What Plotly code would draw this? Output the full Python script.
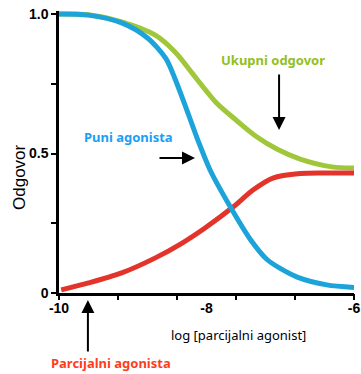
import plotly.graph_objects as go

# Log concentration of the partial agonist (x) and response (y) for each curve
total_x = [-10, -9.6, -9.15, -8.7, -8.43, -8.2, -8.02, -7.86, -7.6, -7.32, -7.04, -6.73, -6.3, -6.0]
total_y = [1.0, 0.997, 0.972, 0.925, 0.865, 0.79, 0.73, 0.68, 0.62, 0.56, 0.515, 0.48, 0.452, 0.448]

full_x = [-10, -9.6, -9.15, -8.8, -8.55, -8.43, -8.3, -8.12, -7.95, -7.68, -7.4, -7.18, -7.0, -6.77, -6.37, -6.0]
full_y = [1.0, 0.996, 0.968, 0.914, 0.84, 0.77, 0.68, 0.55, 0.44, 0.31, 0.19, 0.12, 0.088, 0.057, 0.029, 0.02]

partial_x = [-9.97, -9.6, -9.15, -8.7, -8.33, -8.02, -7.64, -7.37, -7.1, -6.73, -6.4, -6.0]
partial_y = [0.011, 0.036, 0.072, 0.125, 0.179, 0.233, 0.308, 0.369, 0.412, 0.428, 0.43, 0.43]

# Axis ticks and labels
x_label_vals = [-10, -8, -6]
x_label_text = ["-10", "-8", "-6"]
x_tick_marks = [-10, -9.2, -8.4, -7.6, -6.8, -6]
y_tick_vals = [0, 0.25, 0.5, 0.75, 1.0]
y_tick_text = ["0", "", "0.5", "", "1.0"]

GREEN = "#a0c73a"
BLUE = "#1ca3d9"
RED = "#e3342b"
LABEL_FONT = "Comic Sans MS, Noto Sans, sans-serif"
AXIS_FONT = "Arial, Liberation Sans"

fig = go.Figure()
fig.add_trace(go.Scatter(x=total_x, y=total_y, mode="lines",
                         line=dict(color=GREEN, width=5, shape="spline", smoothing=1.0),
                         hoverinfo="skip", showlegend=False))
fig.add_trace(go.Scatter(x=partial_x, y=partial_y, mode="lines",
                         line=dict(color=RED, width=5, shape="spline", smoothing=0.8),
                         hoverinfo="skip", showlegend=False))
fig.add_trace(go.Scatter(x=full_x, y=full_y, mode="lines",
                         line=dict(color=BLUE, width=5, shape="spline", smoothing=0.8),
                         hoverinfo="skip", showlegend=False))
# empty trace that anchors the secondary x axis carrying the tick marks
fig.add_trace(go.Scatter(x=[x_tick_marks[0], x_tick_marks[-1]], y=[None, None], xaxis="x2",
                         mode="lines", hoverinfo="skip", showlegend=False))

fig.update_layout(
    width=361, height=374,
    margin=dict(l=59, r=7, t=11, b=81, autoexpand=False),
    paper_bgcolor="white", plot_bgcolor="white",
    xaxis=dict(range=[-10, -6], tickmode="array", tickvals=x_label_vals, ticktext=x_label_text,
               ticks="", showgrid=False, zeroline=False, showline=True, automargin=False,
               linecolor="black", linewidth=2.5,
               tickfont=dict(family=AXIS_FONT, size=14, color="black", weight="bold")),
    xaxis2=dict(range=[-10, -6], overlaying="x", anchor="y", side="bottom",
                tickmode="array", tickvals=x_tick_marks, ticks="outside", ticklen=6,
                tickwidth=2, tickcolor="black", showticklabels=False, automargin=False,
                showgrid=False, zeroline=False, showline=False),
    yaxis=dict(range=[0, 1.0108], tickmode="array", tickvals=y_tick_vals, ticktext=y_tick_text,
               ticks="outside", ticklen=5, tickwidth=2, tickcolor="black",
               showgrid=False, zeroline=False, showline=True, automargin=False,
               linecolor="black", linewidth=2.5,
               tickfont=dict(family=AXIS_FONT, size=14, color="black", weight="bold")),
)

P = 279 / 282.0  # paper units per response unit inside the plot


def note(text, x, y, size, color, family=LABEL_FONT, **kw):
    return dict(text=text, x=x, y=y * P, xref="paper", yref="paper", showarrow=False,
                xanchor="center", yanchor="middle",
                font=dict(family=family, size=size, color=color), **kw)


def arrow(x, y, ax, ay):
    return dict(text="", x=x, y=y * P, xref="paper", yref="paper", showarrow=True,
                ax=ax, ay=ay, arrowhead=2, arrowsize=1.3, arrowwidth=2, arrowcolor="black")


annotations = [
    # axis titles
    note("Odgovor", -0.132, 0.416, 17, "black", family=AXIS_FONT, textangle=-90),
    note("log [parcijalni agonist]", 0.61, -0.151, 13, "black"),
    # curve labels
    note("<b>Ukupni odgovor</b>", 0.725, 0.835, 13, "#92c020"),
    note("<b>Puni agonista</b>", 0.237, 0.559, 13, "#1a9ef5"),
    note("<b>Parcijalni agonista</b>", 0.176, -0.251, 13, "#ff3c1e"),
    # arrows pointing at the curves
    arrow(0.746, 0.584, 0, -57),
    arrow(0.461, 0.484, -37, 0),
    arrow(0.098, -0.025, 0, 53),
]
fig.update_layout(annotations=annotations)

fig.write_html("out.html")
